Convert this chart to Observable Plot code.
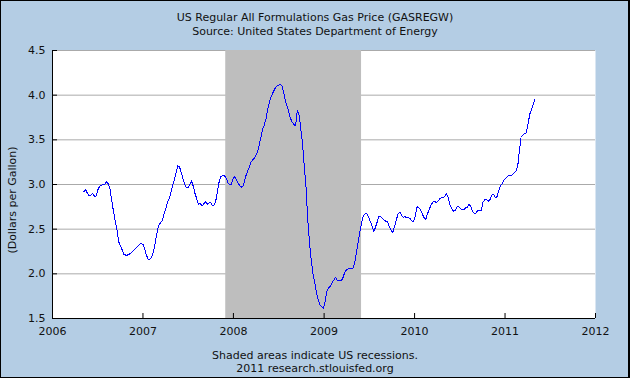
<!DOCTYPE html>
<html>
<head>
<meta charset="utf-8">
<script src="https://cdn.jsdelivr.net/npm/d3@7"></script>
<script src="https://cdn.jsdelivr.net/npm/@observablehq/plot@0.6"></script>
<style>
  html, body { margin: 0; padding: 0; background: #b4cde4; }
  #chart { position: relative; width: 630px; height: 378px; background: #b4cde4; overflow: hidden;
           font-family: "DejaVu Sans", sans-serif; color: #111; }
  #chart svg { position: absolute; left: 0; top: 0; }
  .txt { position: absolute; left: 0; width: 630px; text-align: center; font-size: 11px; line-height: 13px; white-space: nowrap; }
  #ylab { position: absolute; left: 12px; top: 200px; font-size: 11px; line-height: 13px; white-space: nowrap;
          transform: translate(-50%, -50%) rotate(-90deg); }
  #border { position: absolute; left: 0; top: 0; width: 630px; height: 378px; box-sizing: border-box;
            border: 1px solid #000; border-right-width: 2px; pointer-events: none; }
</style>
</head>
<body>
<div id="chart">
  <div class="txt" style="top:11px">US Regular All Formulations Gas Price (GASREGW)</div>
  <div class="txt" style="top:25px">Source: United States Department of Energy</div>
  <div id="ylab">(Dollars per Gallon)</div>
  <div class="txt" style="top:349px">Shaded areas indicate US recessions.</div>
  <div class="txt" style="top:362px">2011 research.stlouisfed.org</div>
  <div id="border"></div>
</div>
<script>
// Weekly series: first week and the weekly prices (dollars per gallon)
const firstWeek = "2006-05-08";
const prices = [
  2.92, 2.94, 2.90, 2.87, 2.88, 2.90, 2.87, 2.87, 2.94, 2.98,
  2.99, 3.00, 3.00, 3.03, 3.01, 2.95, 2.82, 2.70, 2.59, 2.50,
  2.36, 2.31, 2.27, 2.22, 2.21, 2.21, 2.22, 2.23, 2.25, 2.27,
  2.29, 2.31, 2.33, 2.34, 2.33, 2.28, 2.21, 2.16, 2.16, 2.19,
  2.24, 2.34, 2.45, 2.54, 2.57, 2.59, 2.66, 2.72, 2.79, 2.84,
  2.90, 2.98, 3.05, 3.12, 3.21, 3.20, 3.14, 3.07, 3.00, 2.97,
  2.96, 3.00, 3.04, 2.98, 2.90, 2.84, 2.78, 2.79, 2.76, 2.78,
  2.81, 2.78, 2.79, 2.80, 2.76, 2.77, 2.82, 2.93, 3.04, 3.09,
  3.10, 3.10, 3.07, 3.02, 3.00, 3.00, 3.07, 3.09, 3.05, 3.01,
  2.98, 2.97, 2.99, 3.08, 3.13, 3.18, 3.24, 3.27, 3.29, 3.32,
  3.36, 3.44, 3.53, 3.62, 3.67, 3.74, 3.85, 3.93, 3.99, 4.03,
  4.07, 4.10, 4.11, 4.12, 4.11, 4.04, 3.94, 3.88, 3.82, 3.74,
  3.70, 3.67, 3.66, 3.83, 3.78, 3.62, 3.45, 3.20, 2.97, 2.60,
  2.35, 2.15, 2.00, 1.91, 1.79, 1.71, 1.65, 1.63, 1.61, 1.69,
  1.80, 1.84, 1.86, 1.90, 1.93, 1.96, 1.93, 1.92, 1.92, 1.94,
  2.00, 2.04, 2.05, 2.06, 2.06, 2.06, 2.12, 2.23, 2.35, 2.47,
  2.57, 2.65, 2.67, 2.68, 2.64, 2.59, 2.54, 2.47, 2.52, 2.58,
  2.64, 2.64, 2.62, 2.60, 2.59, 2.58, 2.53, 2.49, 2.46, 2.53,
  2.60, 2.67, 2.69, 2.66, 2.63, 2.64, 2.63, 2.63, 2.62, 2.59,
  2.59, 2.65, 2.75, 2.74, 2.72, 2.67, 2.63, 2.61, 2.67, 2.72,
  2.77, 2.80, 2.81, 2.80, 2.81, 2.84, 2.85, 2.85, 2.87, 2.90,
  2.85, 2.77, 2.73, 2.70, 2.71, 2.75, 2.75, 2.73, 2.72, 2.72,
  2.74, 2.74, 2.78, 2.75, 2.70, 2.68, 2.68, 2.71, 2.71, 2.71,
  2.80, 2.83, 2.83, 2.81, 2.83, 2.88, 2.89, 2.86, 2.86, 2.93,
  2.98, 3.01, 3.05, 3.07, 3.09, 3.10, 3.10, 3.11, 3.13, 3.15,
  3.20, 3.38, 3.53, 3.55, 3.57, 3.58, 3.68, 3.79, 3.84, 3.90,
  3.96
];
const recessionStarts = ["2007-12-01"];
const recessionEnds = ["2009-06-01"];
const xTickYears = ["2006", "2007", "2008", "2009", "2010", "2011", "2012"];
const yTicks = [1.5, 2.0, 2.5, 3.0, 3.5, 4.0, 4.5];

const series = prices.map((p, i) => ({date: d3.utcDay.offset(new Date(firstWeek), 7 * i), price: p}));
const recessions = recessionStarts.map((s, i) => ({start: new Date(s), end: new Date(recessionEnds[i])}));
const xTicks = xTickYears.map(y => new Date(y + "-01-01"));
const xDomain = [xTicks[0], xTicks[xTicks.length - 1]];
const yDomain = [yTicks[0], yTicks[yTicks.length - 1]];

const chart = Plot.plot({
  width: 630,
  height: 378,
  marginLeft: 52,
  marginRight: 35,
  marginTop: 50,
  marginBottom: 60,
  style: {background: "transparent", fontFamily: "DejaVu Sans, sans-serif", fontSize: "11px", color: "#111"},
  x: {type: "utc", domain: xDomain},
  y: {domain: yDomain},
  marks: [
    Plot.frame({fill: "white", stroke: "none"}),
    Plot.gridY(yTicks.slice(1), {stroke: "#aaaaaa", strokeOpacity: 1}),
    Plot.rect(recessions, {x1: "start", x2: "end", fill: "#bebebe"}),
    Plot.line(series, {x: "date", y: "price", stroke: "#0000ff", strokeWidth: 1, shapeRendering: "crispEdges"}),
    Plot.ruleY([yDomain[0]], {stroke: "#000"}),
    Plot.ruleX([xDomain[0]], {stroke: "#000"}),
    Plot.axisX(xTicks, {tickSize: -5, tickFormat: () => "", stroke: "#000", label: null}),
    Plot.axisX(xTicks, {tickSize: 0, tickPadding: 9, tickFormat: d3.utcFormat("%Y"), fill: "#111", label: null}),
    Plot.axisY(yTicks, {tickSize: -5, tickFormat: () => "", stroke: "#000", label: null}),
    Plot.axisY(yTicks, {tickSize: 0, tickPadding: 7, tickFormat: d3.format(".1f"), fill: "#111", label: null})
  ]
});
document.getElementById("chart").insertBefore(chart, document.getElementById("border"));
</script>
</body>
</html>
